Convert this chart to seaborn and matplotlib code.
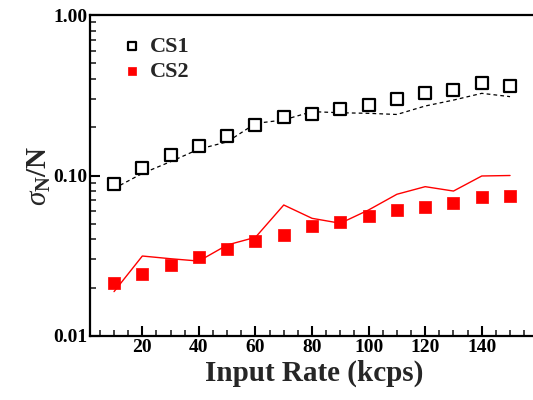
import numpy as np
import pandas as pd
import matplotlib
matplotlib.use("Agg")
import matplotlib.pyplot as plt
import seaborn as sns
from matplotlib.ticker import FixedLocator, NullFormatter, MultipleLocator

rate = [10, 20, 30, 40, 50, 60, 70, 80, 90, 100, 110, 120, 130, 140, 150]
cs1_points = [0.088, 0.112, 0.134, 0.153, 0.176, 0.206, 0.230, 0.241, 0.260, 0.276, 0.300, 0.325, 0.343, 0.375, 0.361]
cs1_line = [0.083, 0.103, 0.122, 0.146, 0.162, 0.211, 0.222, 0.250, 0.246, 0.244, 0.240, 0.271, 0.295, 0.325, 0.310]
cs2_points = [0.0215, 0.0242, 0.0276, 0.0312, 0.0348, 0.0391, 0.0426, 0.0486, 0.0515, 0.0560, 0.0610, 0.0634, 0.0677, 0.0738, 0.0745]
cs2_line = [0.0189, 0.0315, 0.0303, 0.0293, 0.0369, 0.0412, 0.0655, 0.0541, 0.0504, 0.0610, 0.0764, 0.0852, 0.0800, 0.0993, 0.100]
y_ticks = [0.01, 0.1, 1.0]
y_ticklabels = ["0.01", "0.10", "1.00"]
x_ticks = [20, 40, 60, 80, 100, 120, 140]

sns.set_theme(style="ticks")
plt.rcParams['font.family'] = ['Liberation Serif', 'DejaVu Serif']
plt.rcParams['mathtext.fontset'] = 'custom'
plt.rcParams['mathtext.rm'] = 'Liberation Serif'
plt.rcParams['mathtext.it'] = 'Liberation Serif:italic'
plt.rcParams['mathtext.bf'] = 'Liberation Serif:bold'

df = pd.DataFrame({"rate": rate, "cs1p": cs1_points, "cs1l": cs1_line,
                   "cs2p": cs2_points, "cs2l": cs2_line})

fig = plt.figure(figsize=(5.33, 4.0), dpi=100)
ax = fig.add_axes([90/533, 1 - 336/400, 1 - 90/533 + 0.01, (336 - 15)/400])

sns.lineplot(data=df, x="rate", y="cs1l", ax=ax, color="black", lw=0.9,
             linestyle=(0, (3, 2.5)), legend=False)
sns.lineplot(data=df, x="rate", y="cs2l", ax=ax, color="#ff0000", lw=1.0,
             legend=False)
ax.scatter(df["rate"], df["cs1p"], marker="s", s=80, facecolors="white",
           edgecolors="black", linewidths=1.6, label="CS1", zorder=3)
ax.scatter(df["rate"], df["cs2p"], marker="s", s=80, facecolors="#ff0000",
           edgecolors="#ff0000", linewidths=0.5, label="CS2", zorder=3)

ax.set_yscale("log")
ax.set_ylim(0.01, 1.0)
ax.set_xlim(1.5, 160)
ax.set_yticks(y_ticks)
ax.set_yticklabels(y_ticklabels, fontweight="bold", fontsize=14)
ax.yaxis.set_minor_locator(FixedLocator([m * 10.0**e for e in (-2, -1) for m in range(2, 10)]))
ax.yaxis.set_minor_formatter(NullFormatter())
ax.set_xticks(x_ticks)
ax.set_xticklabels([str(v) for v in x_ticks], fontweight="bold", fontsize=14)
ax.xaxis.set_minor_locator(MultipleLocator(5))

ax.tick_params(which="major", direction="in", length=7, width=1.5, pad=2, colors="black")
ax.tick_params(which="minor", direction="in", length=4, width=1.2)
ax.tick_params(top=False, right=False, which="both")
for s in ["left", "bottom", "top"]:
    ax.spines[s].set_linewidth(1.6)
    ax.spines[s].set_color("black")
ax.spines["right"].set_visible(False)

ax.set_xlabel("Input Rate (kcps)", fontsize=21, fontweight="bold", labelpad=3)
ax.set_ylabel(r"$\sigma_{\mathbf{N}}$/N", fontsize=21, fontweight="bold", labelpad=0)

leg = ax.legend(loc="upper left", bbox_to_anchor=(0.02, 0.995), frameon=False,
                prop={"weight": "bold", "size": 16}, handletextpad=0.2,
                labelspacing=0.2, markerscale=0.6, handlelength=1.2)

fig.savefig("out.png", dpi=100)
